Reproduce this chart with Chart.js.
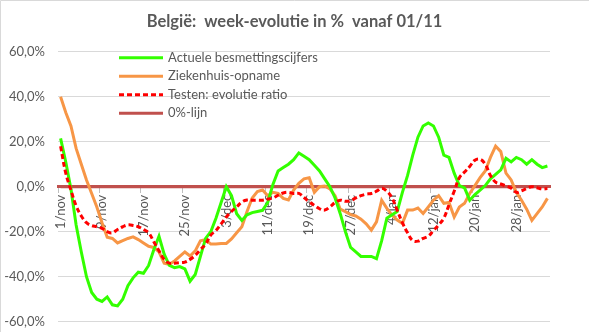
<!DOCTYPE html>
<html>
<head>
<meta charset="utf-8">
<script src="https://cdn.jsdelivr.net/npm/chart.js@4.4.1/dist/chart.umd.min.js"></script>
<style>
  html, body { margin: 0; padding: 0; background: #fff; }
  canvas { display: block; }
</style>
</head>
<body>
<canvas id="grafiek" width="589" height="332"></canvas>
<script>
// dagen van 1 november tot 3 februari
const dagen = [
  "1/nov", "2/nov", "3/nov", "4/nov", "5/nov", "6/nov", "7/nov", "8/nov", "9/nov", "10/nov",
  "11/nov", "12/nov", "13/nov", "14/nov", "15/nov", "16/nov", "17/nov", "18/nov", "19/nov", "20/nov",
  "21/nov", "22/nov", "23/nov", "24/nov", "25/nov", "26/nov", "27/nov", "28/nov", "29/nov", "30/nov",
  "1/dec", "2/dec", "3/dec", "4/dec", "5/dec", "6/dec", "7/dec", "8/dec", "9/dec", "10/dec",
  "11/dec", "12/dec", "13/dec", "14/dec", "15/dec", "16/dec", "17/dec", "18/dec", "19/dec", "20/dec",
  "21/dec", "22/dec", "23/dec", "24/dec", "25/dec", "26/dec", "27/dec", "28/dec", "29/dec", "30/dec",
  "31/dec", "1/jan", "2/jan", "3/jan", "4/jan", "5/jan", "6/jan", "7/jan", "8/jan", "9/jan",
  "10/jan", "11/jan", "12/jan", "13/jan", "14/jan", "15/jan", "16/jan", "17/jan", "18/jan", "19/jan",
  "20/jan", "21/jan", "22/jan", "23/jan", "24/jan", "25/jan", "26/jan", "27/jan", "28/jan", "29/jan",
  "30/jan", "31/jan", "1/feb", "2/feb", "3/feb"
];

// week-evolutie in %
const besmettingen = [
  21.5, 11, -1, -17, -29, -40, -47, -50, -51, -49,
  -52.5, -53, -50, -44, -40.5, -38, -38.5, -35, -28, -22,
  -30, -35, -36, -35.5, -36.5, -42, -39, -31, -23, -20,
  -14, -7, 0, -4, -12, -15, -12.5, -11.5, -11, -10.5,
  -7, 1, 7, 8.5, 10, 12, 15, 13.5, 12, 9.5,
  7, 3.5, 0, -5, -12, -20, -27, -29, -31, -31,
  -31, -32, -24, -14, -12.5, -11, -2.5, 5, 14, 22,
  27, 28.3, 27, 22, 14, 13, 6, 0.5, -0.5, -6,
  -3.5, -1.5, 0.5, 3.5, 5.5, 7.5, 12.6, 11, 13, 12,
  10, 12, 10, 8.5, 9.2
];

const ziekenhuis = [
  40, 33, 27, 17, 10, 3, -3, -9, -16, -22.5,
  -23, -25, -24, -23, -22.3, -23.5, -25, -26.5, -27, -29,
  -34, -34.5, -33, -31, -29, -30.8, -28.5, -24, -23.5, -25.5,
  -25.5, -25.2, -25.2, -23.2, -20.5, -17.8, -11, -5, -2.2, -1.5,
  -4, -2.5, -3, -5.2, -5.9, -1.5, 1.5, 3.5, 4, -2.5,
  0, 0.3, -1, -4, -10, -11.1, -12.4, -13, -14.4, -16.5,
  -19.3, -15.6, -6, -9.6, -12.6, -14.8, -16.3, -10.4, -10.4, -9.5,
  -11.9, -9, -6, -4, -7.4, -7, -13.5, -9, -7.4, -3,
  0.5, 4, 7, 13, 18, 15.6, 6, 3, -2.5, -6,
  -10, -15, -12, -9, -5.2
];

const testen = [
  18, 6, -1.5, -8.5, -13, -16, -17.3, -17.8, -18.5, -20,
  -20.5, -19, -17.8, -17, -17.2, -17.8, -19, -20.5, -24.5, -28.5,
  -32.3, -34, -34, -33.8, -33.5, -32.3, -30.5, -28, -25.5, -21.5,
  -19.5, -16.5, -13.5, -11, -9, -6.8, -5.9, -6, -6, -6,
  -5.5, -5, -3.8, -2.8, -2.5, -3, -3, -4.8, -6.7, -8.3,
  -9.8, -10.4, -9, -7, -6, -6.5, -6.2, -5, -4, -3.3,
  -3, -2, -0.7, -2, -5, -10.5, -16, -20.5, -24, -24.2,
  -23, -22, -19.5, -17, -14, -8, -2, 4, 6.5, 9,
  11.8, 12.2, 10, 5, 2, 1.2, 0.3, -0.7, -2.5, -1.8,
  -0.8, 0, -0.5, -1, -0.8
];

const nulLijn = [
  0, 0, 0, 0, 0, 0, 0, 0, 0, 0,
  0, 0, 0, 0, 0, 0, 0, 0, 0, 0,
  0, 0, 0, 0, 0, 0, 0, 0, 0, 0,
  0, 0, 0, 0, 0, 0, 0, 0, 0, 0,
  0, 0, 0, 0, 0, 0, 0, 0, 0, 0,
  0, 0, 0, 0, 0, 0, 0, 0, 0, 0,
  0, 0, 0, 0, 0, 0, 0, 0, 0, 0,
  0, 0, 0, 0, 0, 0, 0, 0, 0, 0,
  0, 0, 0, 0, 0, 0, 0, 0, 0, 0,
  0, 0, 0, 0, 0
];

const yTicks = [-60, -40, -20, 0, 20, 40, 60];

const tekstKleur = "#595959";
const lettertype = "Lato";

// legende binnen de grafiek, onder elkaar
const legendeBinnen = {
  id: "legendeBinnen",
  afterDatasetsDraw(chart, args, opts) {
    const { ctx, chartArea } = chart;
    ctx.save();
    ctx.font = `${opts.size}px ${lettertype}`;
    ctx.textBaseline = "middle";
    ctx.textAlign = "left";
    chart.data.datasets.forEach((ds, i) => {
      const x = chartArea.left + opts.left;
      const y = chartArea.top + opts.top + i * opts.rowHeight;
      ctx.beginPath();
      ctx.strokeStyle = ds.borderColor;
      ctx.lineWidth = ds.borderWidth;
      ctx.setLineDash(ds.borderDash || []);
      ctx.moveTo(x, y);
      ctx.lineTo(x + opts.lineLength, y);
      ctx.stroke();
      ctx.setLineDash([]);
      ctx.fillStyle = tekstKleur;
      ctx.fillText(ds.label, x + opts.lineLength + opts.gap, y);
    });
    ctx.restore();
  }
};

// dunne grijze rand boven en links
const rand = {
  id: "rand",
  afterDraw(chart) {
    const { ctx, width, height } = chart;
    ctx.save();
    ctx.strokeStyle = "#d9d9d9";
    ctx.lineWidth = 1;
    ctx.beginPath();
    ctx.moveTo(0.5, height);
    ctx.lineTo(0.5, 0.5);
    ctx.lineTo(width, 0.5);
    ctx.stroke();
    ctx.restore();
  }
};

const grafiek = new Chart(document.getElementById("grafiek"), {
  type: "line",
  data: {
    labels: dagen,
    datasets: [
      {
        label: "Actuele besmettingscijfers",
        data: besmettingen,
        borderColor: "#33ff00",
        borderWidth: 3,
        tension: 0,
        order: 1
      },
      {
        label: "Ziekenhuis-opname",
        data: ziekenhuis,
        borderColor: "#f79646",
        borderWidth: 3,
        tension: 0,
        order: 2
      },
      {
        label: "Testen: evolutie ratio",
        data: testen,
        borderColor: "#ff0000",
        borderWidth: 3,
        borderDash: [5, 3],
        tension: 0.4,
        order: 0
      },
      {
        label: "0%-lijn",
        data: nulLijn,
        borderColor: "#c0504d",
        borderWidth: 3,
        tension: 0,
        order: 5
      }
    ]
  },
  options: {
    responsive: false,
    animation: false,
    events: [],
    elements: { point: { radius: 0 } },
    layout: { padding: { bottom: 10.3 } },
    plugins: {
      legend: { display: false },
      tooltip: { enabled: false },
      title: {
        display: true,
        text: "België:  week-evolutie in %  vanaf 01/11",
        color: tekstKleur,
        font: { family: lettertype, size: 16.5, weight: "bold" },
        padding: { top: 12, bottom: 19.9 }
      },
      legendeBinnen: { left: 61, top: 6, rowHeight: 18.5, lineLength: 44, gap: 5, size: 13 }
    },
    scales: {
      x: {
        type: "category",
        position: { y: 0 },
        offset: true,
        border: { display: true, color: "#c0504d", width: 3 },
        grid: {
          offset: true,
          drawOnChartArea: false,
          drawTicks: true,
          tickLength: 5,
          color: (c) => (c.index % 8 === 0 ? "#bfbfbf" : "rgba(0,0,0,0)")
        },
        ticks: {
          autoSkip: false,
          minRotation: 90,
          maxRotation: 90,
          padding: 3,
          color: tekstKleur,
          font: { family: lettertype, size: 13 },
          callback: function (value, index) {
            return index % 8 === 0 ? this.getLabelForValue(value) : "";
          }
        }
      },
      y: {
        min: yTicks[0],
        max: yTicks[yTicks.length - 1],
        afterBuildTicks: (scale) => {
          scale.ticks = yTicks.map((v) => ({ value: v }));
        },
        afterFit: (scale) => {
          // vaste breedte, en de tekstafstand niet als marge boven/onder meetellen
          scale.width = 58;
          scale.paddingTop = 0;
          scale.paddingBottom = 0;
        },
        border: { display: false },
        grid: { color: "#d9d9d9", drawTicks: false },
        ticks: {
          padding: 13,
          color: tekstKleur,
          font: { family: lettertype, size: 13 },
          callback: (v) => v.toFixed(1).replace(".", ",") + "%"
        }
      },
      // lege ruimte rechts van de grafiek
      rechts: {
        type: "linear",
        position: "right",
        grid: { display: false },
        border: { display: false },
        ticks: { display: false },
        afterFit: (scale) => {
          scale.width = 39;
        }
      }
    }
  },
  plugins: [legendeBinnen, rand]
});
</script>
</body>
</html>
